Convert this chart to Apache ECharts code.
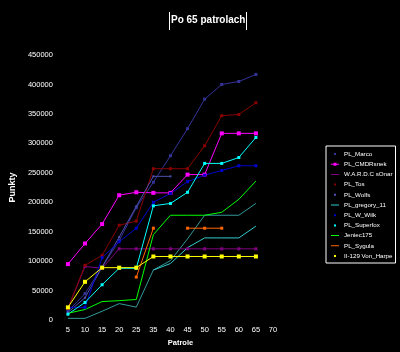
<!DOCTYPE html>
<html>
<head>
<meta charset="utf-8">
<script src="https://cdn.jsdelivr.net/npm/echarts@6/dist/echarts.min.js"></script>
<style>
  html, body { margin: 0; padding: 0; background: #000; }
  #chart { width: 400px; height: 352px; }
</style>
</head>
<body>
<div id="chart"></div>
<script>
// patrols (x axis), the 30 label is not on the original axis
const categories = ['5', '10', '15', '20', '25', '35', '40', '45', '50', '55', '60', '65', '70']
const yTicks = [0, 50000, 100000, 150000, 200000, 250000, 300000, 350000, 400000, 450000]

const marco = [15000, 45000, 90000, 135000, 191000, 234000, 279000, 325000, 375000, 400000, 405000, 417000]
const cmdrSnek = [95000, 130000, 163000, 212000, 217000, 216000, 216000, 247000, 247000, 317000, 317000, 317000]
const sonar = [20000, 91000, 88000, 121000, 121000, 121000, 121000, 121000, 121000, 121000, 121000, 121000]
const tos = [20000, 93000, 110000, 161000, 168000, 257000, 257000, 257000, 296000, 347000, 349000, 369000]
const wolfs = [13000, 38000, 90000, 141000, 193000, 244000, 244000, null, null, null, null, null]
const gregory = [null, null, null, null, null, 85000, 96000, 123000, 139500, 139500, 139500, 159500]
const wWilk = [21600, 21600, 106000, 133000, 156000, 200000, 215000, 235000, 246000, 254000, 262000, 262000]
const superfox = [10000, 30000, 60000, 88000, 88000, 194000, 198000, 217000, 266000, 266000, 276000, 310000]
const jeniec = [11600, 18000, 31500, 33000, 35000, 145000, 178000, 178000, 178000, 183000, 205000, 236000]
const sygula = [null, null, null, null, 73000, 156000, null, 156000, 156000, 156000, null, null]
const vonHarpe = [21600, 65000, 89000, 89000, 89000, 108000, 108000, 108000, 108000, 108000, 108000, 108000]
const extra = [3000, 3000, 15000, 28000, 22000, 85000, 101000, 138000, 178000, 178000, 178000, 198000]

// legend icons: dot only, line only, line with dot
const box = ' M0,0h0.1v0.1h-0.1z M8,7h-0.1v-0.1h0.1z'
const iconDot = 'path://M3,2.5h2v2h-2z' + box
const iconLine = 'path://M0,3h8v1h-8z' + box
const iconBoth = 'path://M0,3h8v1h-8z M2.5,2h3v3h-3z' + box

function line(name, data, color, symbolSize, icon) {
  return {
    name: name,
    type: 'line',
    data: data,
    color: color,
    symbol: 'rect',
    symbolSize: symbolSize,
    showSymbol: symbolSize > 0,
    lineStyle: { width: 1, color: color },
    itemStyle: { color: color },
    connectNulls: false,
    _icon: icon
  }
}

const seriesList = [
  line('teal', extra, '#339999', 0, iconLine),
  line('PL_Marco', marco, '#333399', 3, iconDot),
  line('PL_CMDRsnek', cmdrSnek, '#ff00ff', 4, iconBoth),
  line('W.A.R.D.C sOnar', sonar, '#800080', 3, iconLine),
  line('PL_Tos', tos, '#880000', 3, iconDot),
  line('PL_Wolfs', wolfs, '#5050b0', 2, iconDot),
  line('PL_gregory_11', gregory, '#33cccc', 0, iconLine),
  line('PL_W_Wilk', wWilk, '#0000cc', 3, iconDot),
  line('PL_Superfox', superfox, '#00ffff', 3, iconDot),
  line('Jeniec175', jeniec, '#00ff00', 0, iconLine),
  line('PL_Sygula', sygula, '#ff6600', 3, iconLine),
  line('II-129 Von_Harpe', vonHarpe, '#ffff00', 4, iconDot)
]

const legendData = seriesList.filter(s => s.name !== 'teal').map(s => ({ name: s.name, icon: s._icon }))

const labelStyle = { color: '#fff', fontSize: 7.5, fontFamily: 'Liberation Sans' }

const option = {
  backgroundColor: '#000',
  animation: false,
  title: {
    text: 'Po 65 patrolach',
    left: 171,
    top: 15,
    padding: 0,
    textStyle: { color: '#fff', fontSize: 10, fontWeight: 'bold', fontFamily: 'Liberation Sans' }
  },
  graphic: [
    { type: 'line', shape: { x1: 169.5, y1: 12, x2: 169.5, y2: 30 }, style: { stroke: '#fff', lineWidth: 1 } },
    { type: 'line', shape: { x1: 246.5, y1: 12, x2: 246.5, y2: 30 }, style: { stroke: '#fff', lineWidth: 1 } }
  ],
  legend: {
    data: legendData,
    orient: 'vertical',
    left: 326,
    top: 146,
    padding: [4, 3, 3, 5],
    backgroundColor: '#000',
    borderColor: '#fff',
    borderWidth: 1,
    itemWidth: 8,
    itemHeight: 7,
    itemGap: 2.2,
    textStyle: { color: '#fff', fontSize: 6.2, lineHeight: 8, fontFamily: 'Liberation Sans' }
  },
  grid: { left: 43, right: 127, top: 55, bottom: 26 },
  xAxis: {
    type: 'category',
    data: categories,
    boundaryGap: false,
    name: 'Patrole',
    nameLocation: 'middle',
    nameGap: 14,
    nameTextStyle: { color: '#fff', fontSize: 7.5, fontWeight: 'bold', fontFamily: 'Liberation Sans', padding: [0, 0, 0, 20] },
    axisLine: { show: false },
    axisTick: { show: false },
    splitLine: { show: false },
    axisLabel: Object.assign({ margin: 6, interval: 0 }, labelStyle)
  },
  yAxis: {
    type: 'value',
    min: yTicks[0],
    max: yTicks[yTicks.length - 1],
    interval: yTicks[1] - yTicks[0],
    name: 'Punkty',
    nameLocation: 'middle',
    nameGap: 32,
    nameTextStyle: { color: '#fff', fontSize: 9, fontWeight: 'bold', fontFamily: 'Liberation Sans' },
    axisLine: { show: false },
    axisTick: { show: false },
    splitLine: { show: false },
    axisLabel: Object.assign({ margin: 15, formatter: v => String(v) }, labelStyle)
  },
  series: seriesList
}

const chartsInstance = echarts.init(document.getElementById('chart'), null, { renderer: 'canvas' })
chartsInstance.setOption(option)
</script>
</body>
</html>
